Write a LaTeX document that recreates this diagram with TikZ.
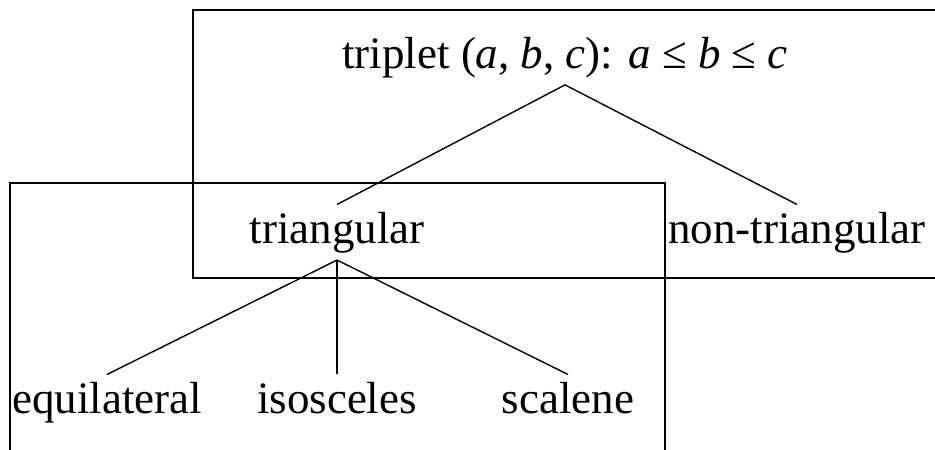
\documentclass[tikz,border=0pt]{standalone}
\usepackage{fontspec}
\setmainfont{Liberation Serif}
\usepackage{tikz}
\usetikzlibrary{positioning}

\begin{document}
\begin{tikzpicture}[font=\fontsize{32}{38}\selectfont,
  lbl/.style={inner sep=5pt, anchor=base},
  link/.style={line width=1pt},
  grp/.style={draw, line width=1pt}]
\useasboundingbox (0,0) rectangle (23.375,-11.225);
\clip (0,0) rectangle (23.375,-11.225);
% --- the two groups ---
\draw[grp] (4.825,-0.25) rectangle (23.6,-6.95);
\draw[grp] (0.25,-4.575) rectangle (16.625,-11.6);
% --- labels ---
\node[lbl] (trip) at (14.125,-1.7)
  {triplet (\textit{a}, \textit{b}, \textit{c}): \textit{a} ≤ \textit{b} ≤ \textit{c}};
\node[lbl] (tri) at (8.425,-6.075) {triangular};
\node[lbl] (ntri) at (19.925,-6.075) {non-triangular};
\node[lbl] (equi) at (2.675,-10.325) {equilateral};
\node[lbl] (isos) at (8.425,-10.325) {isosceles};
\node[lbl] (scal) at (14.2,-10.325) {scalene};
% --- tree ---
\draw[link] (trip.south) -- (tri.north);
\draw[link] (trip.south) -- (ntri.north);
\draw[link] (tri.south) -- (equi.north);
\draw[link] (tri.south) -- (isos.north);
\draw[link] (tri.south) -- (scal.north);
\end{tikzpicture}
\end{document}
